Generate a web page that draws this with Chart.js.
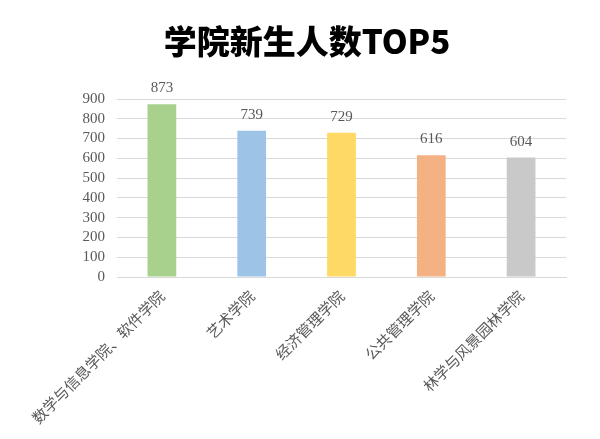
<!DOCTYPE html>
<html>
<head>
<meta charset="utf-8">
<script src="https://cdn.jsdelivr.net/npm/chart.js@4/dist/chart.umd.min.js"></script>
<style>
html,body{margin:0;padding:0;background:#fff;}
#wrap{width:600px;height:439px;}
</style>
</head>
<body>
<div id="wrap"><canvas id="c" width="600" height="439"></canvas></div>
<script>
const categories = ["数学与信息学院、软件学院", "艺术学院", "经济管理学院", "公共管理学院", "林学与风景园林学院"];
const values = [873, 739, 729, 616, 604];
const barColors = ["#a9d18e", "#9dc3e6", "#ffd966", "#f4b183", "#c9c9c9"];
const yTicks = [0, 100, 200, 300, 400, 500, 600, 700, 800, 900];
const titleText = "学院新生人数TOP5";

const valueLabels = {
  id: 'valueLabels',
  afterDatasetsDraw(chart) {
    const ctx = chart.ctx;
    const meta = chart.getDatasetMeta(0);
    ctx.save();
    ctx.font = '15px "Liberation Serif", "DejaVu Serif", serif';
    ctx.fillStyle = '#595959';
    ctx.textAlign = 'center';
    ctx.textBaseline = 'alphabetic';
    meta.data.forEach((bar, i) => {
      ctx.fillText(String(values[i]), bar.x, bar.y - 12);
    });
    ctx.restore();
  }
};

const titleDraw = {
  id: 'titleDraw',
  afterDraw(chart) {
    const ctx = chart.ctx;
    ctx.save();
    ctx.font = '900 33px "Noto Sans CJK SC", sans-serif';
    ctx.fillStyle = '#000';
    ctx.textAlign = 'center';
    ctx.textBaseline = 'middle';
    ctx.fillText(titleText, chart.width / 2 + 7, 41);
    ctx.restore();
  }
};

new Chart(document.getElementById('c'), {
  type: 'bar',
  data: {
    labels: categories,
    datasets: [{
      data: values,
      backgroundColor: barColors,
      borderWidth: 0,
      barPercentage: 0.32,
      categoryPercentage: 1.0
    }]
  },
  options: {
    responsive: false,
    animation: false,
    devicePixelRatio: 1,
    layout: { padding: { left: 0, right: 34, top: 99, bottom: 0 } },
    plugins: {
      legend: { display: false },
      tooltip: { enabled: false },
      title: { display: false }
    },
    scales: {
      x: {
        grid: { display: false, drawTicks: false },
        border: { display: true, color: '#d9d9d9', width: 1 },
        ticks: {
          color: '#595959',
          font: { family: '"Noto Sans CJK SC", sans-serif', size: 15 },
          minRotation: 45,
          maxRotation: 45,
          autoSkip: false,
          padding: 10
        },
        afterFit(scale) { scale.height = 162; }
      },
      y: {
        min: 0,
        max: 900,
        afterBuildTicks(scale) { scale.ticks = yTicks.map(v => ({ value: v })); },
        grid: { color: '#d9d9d9', drawTicks: false, lineWidth: 1 },
        border: { display: false },
        ticks: {
          autoSkip: false,
          stepSize: 100,
          color: '#595959',
          font: { family: '"Liberation Serif", "DejaVu Serif", serif', size: 15 },
          padding: 12
        },
        afterFit(scale) { scale.width = 117; }
      }
    }
  },
  plugins: [valueLabels, titleDraw]
});
</script>
</body>
</html>
